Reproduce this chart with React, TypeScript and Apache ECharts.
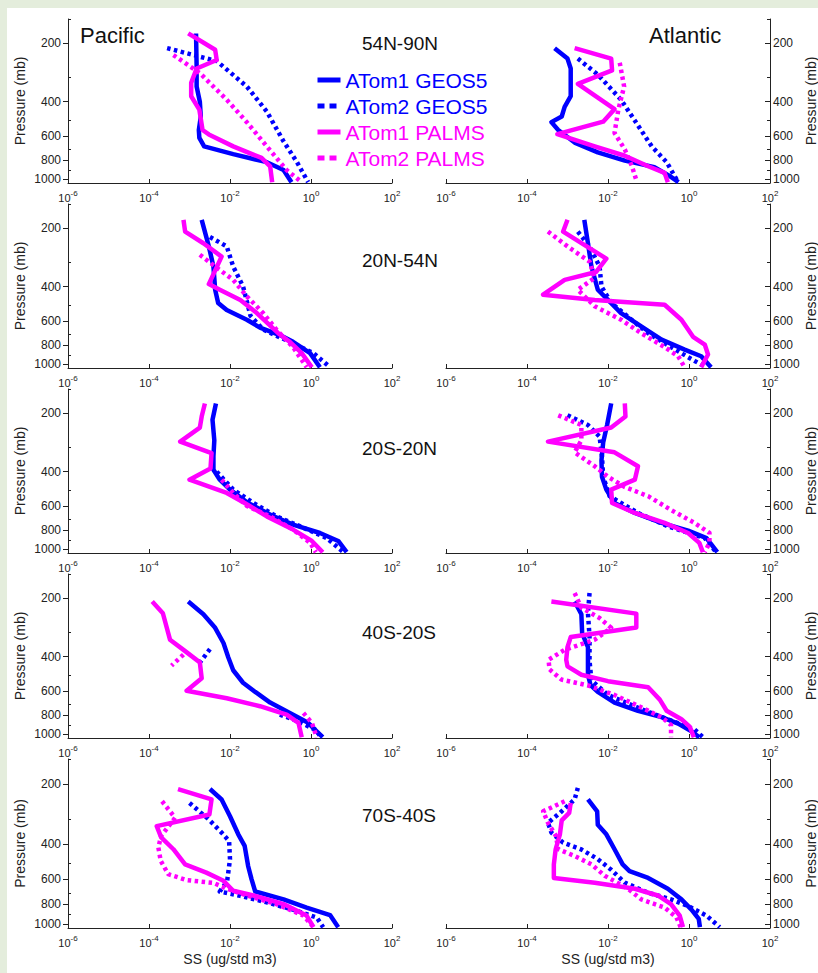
import React, { useEffect, useRef } from "react";
import * as echarts from "echarts";

const FONT = '"Liberation Sans", Arial, Helvetica, sans-serif';
const BLUE = "#0000ff";
const MAGENTA = "#ff00ff";
const INK = "#222222";

const OCEANS = ["Pacific", "Atlantic"];
const REGIONS = ["54N-90N", "20N-54N", "20S-20N", "40S-20S", "70S-40S"];
const SERIES_NAMES = ["ATom1 GEOS5", "ATom2 GEOS5", "ATom1 PALMS", "ATom2 PALMS"];
const X_TICKS = [1e-6, 1e-4, 1e-2, 1, 100];
const Y_MAJOR = [200, 400, 600, 800, 1000];
const Y_MINOR = [150, 300, 500, 700, 900];

type Pt = [number, number] | null; // [SS ug/std m3, pressure mb]

// ---------- 54N-90N ----------
const pac5490_geos1: Pt[] = [[1.45e-3,178],[1.5e-3,264],[1.5e-3,334],[1.8e-3,400],[1.9e-3,477],[1.7e-3,560],[1.75e-3,615],[2.3e-3,680],[1.2e-2,745],[8.1e-2,820],[0.21,900],[0.33,1040]];
const pac5490_geos2: Pt[] = [[2.8e-4,212],[4.7e-3,247],[2.6e-2,334],[8.1e-2,450],[0.21,640],[0.45,820],[0.85,1040]];
const pac5490_palms1: Pt[] = [[9.3e-4,178],[4.3e-3,216],[4.7e-3,244],[1.5e-3,270],[1.1e-3,320],[1.1e-3,375],[1.75e-3,440],[2.1e-3,560],[3.0e-3,590],[1.2e-2,680],[6.0e-2,780],[9.8e-2,861],[0.11,1040]];
const pac5490_palms2: Pt[] = [[4.0e-4,230],[1.8e-3,285],[8.3e-3,391],[2.6e-2,510],[8.1e-2,680],[0.25,900],[0.59,1040]];

const atl5490_geos1: Pt[] = [[4.8e-4,212],[1.0e-3,240],[1.2e-3,270],[1.2e-3,375],[8.5e-4,425],[7.2e-4,477],[4.0e-4,510],[5.9e-4,560],[1.5e-3,650],[5.6e-3,730],[2.6e-2,805],[0.14,870],[0.33,965],[0.55,1040]];
const atl5490_geos2: Pt[] = [[1.8e-3,240],[5.6e-3,290],[2.1e-2,391],[5.5e-2,530],[0.12,680],[0.28,820],[0.54,1040]];
const atl5490_palms1: Pt[] = [[1.5e-3,212],[1.2e-2,240],[1.26e-2,276],[1.8e-3,324],[1.45e-2,437],[7.6e-3,507],[5.6e-4,588],[4.7e-3,680],[2.6e-2,760],[9.8e-2,861],[0.25,931],[0.30,1040]];
const atl5490_palms2: Pt[] = [[1.95e-2,252],[2.5e-2,334],[1.8e-2,440],[1.45e-2,580],[2.6e-2,705],[3.9e-2,861],[5.2e-2,1040]];

// ---------- 20N-54N ----------
const pac2054_geos1: Pt[] = [[2.0e-3,181],[3.0e-3,248],[3.9e-3,315],[4.3e-3,415],[5.1e-3,485],[8.3e-3,528],[2.6e-2,592],[5.5e-2,650],[0.17,710],[0.36,770],[0.95,880],[1.66,1040]];
const pac2054_geos2: Pt[] = [[3.2e-3,222],[8.3e-3,248],[1.2e-2,315],[2.1e-2,399],[2.8e-2,505],[3.2e-2,565],[6.6e-2,666],[0.30,770],[1.15,880],[2.95,1040]];
const pac2054_palms1: Pt[] = [[7.1e-4,181],[7.8e-4,208],[2.2e-3,239],[6.2e-3,280],[3.0e-3,388],[5.6e-3,415],[1.8e-2,468],[4.6e-2,547],[0.155,695],[0.30,770],[0.59,880],[1.05,1040]];
const pac2054_palms2: Pt[] = [[1.8e-3,274],[4.3e-3,315],[1.2e-2,369],[2.6e-2,449],[6.6e-2,547],[0.14,666],[0.36,820],[0.78,1040]];

const atl2054_geos1: Pt[] = [[2.6e-3,181],[3.2e-3,239],[3.9e-3,315],[5.6e-3,415],[1.0e-2,468],[2.1e-2,547],[6.6e-2,640],[0.21,750],[0.78,844],[2.0,913],[3.5,1040]];
const atl2054_geos2: Pt[] = [[1.8e-3,208],[3.5e-3,248],[6.2e-3,315],[6.9e-3,399],[1.2e-2,485],[3.8e-2,592],[9.8e-2,695],[0.36,820],[1.38,966],[2.7,1040]];
const atl2054_palms1: Pt[] = [[1.0e-3,181],[7.8e-4,208],[9.1e-3,287],[5.1e-3,336],[8.5e-4,369],[2.5e-4,440],[4.7e-3,468],[0.25,496],[0.65,592],[1.26,725],[2.45,795],[2.95,895],[2.0,1040]];
const atl2054_palms2: Pt[] = [[3.3e-4,208],[1.0e-3,248],[3.5e-3,297],[4.7e-3,360],[1.8e-3,415],[4.7e-3,505],[2.1e-2,592],[6.6e-2,695],[0.25,820],[0.54,913],[0.78,1040]];

// ---------- 20S-20N ----------
const pac2020_geos1: Pt[] = [[4.5e-3,178],[3.7e-3,216],[4.1e-3,276],[3.9e-3,334],[3.9e-3,391],[5.6e-3,440],[1.0e-2,495],[2.8e-2,580],[0.12,680],[0.36,750],[1.66,828],[4.7,910],[7.6,1040]];
const pac2020_geos2: Pt[] = [[4.7e-3,400],[1.2e-2,495],[3.8e-2,580],[0.14,680],[0.54,765],[2.45,880],[6.3,1040]];
const pac2020_palms1: Pt[] = [[2.4e-3,178],[2.0e-3,208],[1.8e-3,237],[5.9e-4,280],[3.5e-3,321],[3.3e-3,385],[1.0e-3,440],[8.3e-3,515],[2.3e-2,580],[8.1e-2,680],[0.36,795],[1.05,910],[1.95,1040]];
const pac2020_palms2: Pt[] = [[6.2e-3,440],[1.2e-2,515],[2.6e-2,600],[9.8e-2,680],[0.36,795],[0.95,931],[1.32,1040]];

const atl2020_geos1: Pt[] = [[1.2e-2,178],[9.5e-3,230],[7.6e-3,283],[6.9e-3,350],[7.1e-3,425],[9.1e-3,495],[1.45e-2,580],[4.6e-2,653],[0.21,735],[0.95,805],[2.7,880],[5.0,1040]];
const atl2020_geos2: Pt[] = [[1.0e-3,205],[3.2e-3,230],[6.2e-3,264],[7.1e-3,334],[7.6e-3,425],[1.1e-2,535],[5.5e-2,653],[0.30,765],[2.45,880],[4.7,1040]];
const atl2020_palms1: Pt[] = [[2.6e-2,178],[2.7e-2,208],[1.2e-2,237],[3.3e-4,280],[1.45e-2,318],[5.5e-2,375],[4.6e-2,440],[1.2e-2,495],[1.26e-2,580],[4.6e-2,653],[0.25,735],[0.95,828],[1.8,931],[2.2,1040]];
const atl2020_palms2: Pt[] = [[5.9e-4,205],[2.2e-3,230],[2.2e-3,276],[1.5e-3,318],[4.7e-3,375],[1.0e-2,425],[2.6e-2,480],[9.8e-2,535],[0.36,630],[1.38,735],[3.2,828],[3.2,931],[2.45,1040]];

// ---------- 40S-20S ----------
const pac4020_geos1: Pt[] = [[9.3e-4,208],[2.2e-3,242],[4.3e-3,284],[6.9e-3,340],[9.1e-3,404],[1.2e-2,470],[2.1e-2,545],[4.2e-2,608],[9.8e-2,690],[0.30,780],[0.85,877],[1.38,970],[1.95,1040]];
const pac4020_geos2: Pt[] = [[3.2e-3,366],[1.75e-3,432],null,[0.17,795],[0.45,857],[1.26,950],[1.8,1040]];
const pac4020_palms1: Pt[] = [[1.2e-4,208],[2.2e-4,239],[3.3e-4,327],[7.1e-4,369],[1.8e-3,428],[2.0e-3,517],[8.5e-4,600],[8.3e-3,655],[5.5e-2,720],[0.25,795],[0.49,877],[0.59,1040]];
const pac4020_palms2: Pt[] = [[7.1e-4,390],[3.6e-4,445],null,[0.65,780],[1.05,877],[1.38,1040]];

const atl4020_geos1: Pt[] = [[1.5e-3,208],[2.2e-3,242],[2.3e-3,303],[3.2e-3,357],[3.2e-3,495],[3.7e-3,560],[5.6e-3,608],[1.45e-2,690],[5.5e-2,760],[0.21,820],[0.54,885],[1.15,970],[1.8,1040]];
const atl4020_geos2: Pt[] = [[3.5e-3,188],[3.2e-3,239],[3.5e-3,316],[3.5e-3,420],[3.9e-3,530],[1.0e-2,630],[6.6e-2,745],[0.30,840],[1.38,950],[2.2,1040]];
const atl4020_palms1: Pt[] = [[4.0e-4,208],[5.0e-2,240],[5.0e-2,283],[1.2e-3,317],[1.0e-3,357],[9.3e-4,415],[1.0e-3,449],[2.2e-3,496],[1.0e-2,535],[9.8e-2,575],[0.19,666],[0.28,760],[0.65,840],[1.05,920],[1.32,1040]];
const atl4020_palms2: Pt[] = [[1.5e-3,188],[2.2e-3,224],[6.2e-3,253],[1.2e-2,284],[4.7e-3,327],[8.5e-4,369],[3.4e-4,415],[3.6e-4,465],[7.1e-4,525],[3.2e-3,563],[1.45e-2,630],[6.6e-2,730],[0.21,820],[0.36,900],[0.36,1040]];

// ---------- 70S-40S ----------
const pac7040_geos1: Pt[] = [[3.2e-3,212],[6.2e-3,239],[1.0e-2,290],[1.6e-2,357],[2.3e-2,408],[2.8e-2,514],[3.4e-2,598],[4.2e-2,690],[0.21,755],[0.78,830],[2.95,905],[4.7,1040]];
const pac7040_geos2: Pt[] = [[1.0e-3,249],[3.0e-3,301],[6.2e-3,350],[9.5e-3,386],[1.0e-2,476],[8.5e-3,612],[5.6e-3,690],[1.8e-2,725],[8.1e-2,782],[0.36,850],[1.38,930],[2.0,1040]];
const pac7040_palms1: Pt[] = [[5.2e-4,212],[3.5e-3,239],[3.1e-3,284],[1.55e-4,325],[2.0e-4,370],[4.0e-4,424],[7.8e-4,505],[2.6e-3,555],[6.9e-3,610],[1.2e-2,684],[3.8e-2,722],[0.21,797],[0.78,910],[1.15,1040]];
const pac7040_palms2: Pt[] = [[2.1e-4,244],[4.4e-4,295],[2.0e-4,364],[1.7e-4,415],[1.95e-4,485],[3.0e-4,565],[8.5e-4,605],[3.9e-3,625],[8.3e-3,668],[2.6e-2,722],[0.14,797],[0.65,910],[1.15,1040]];

const atl7040_geos1: Pt[] = [[3.2e-3,239],[5.4e-3,274],[5.6e-3,320],[9.1e-3,357],[1.45e-2,424],[2.3e-2,505],[3.4e-2,546],[9.8e-2,590],[0.30,668],[0.65,755],[1.15,850],[1.74,946],[1.86,1040]];
const atl7040_geos2: Pt[] = [[1.8e-3,209],[1.5e-3,239],[6.5e-4,279],[3.3e-4,313],[4.0e-4,350],[7.8e-4,393],[2.2e-3,425],[5.6e-3,475],[1.2e-2,537],[2.6e-2,623],[9.8e-2,700],[0.36,755],[0.95,815],[2.7,910],[5.75,1040]];
const atl7040_palms1: Pt[] = [[1.2e-3,249],[1.1e-3,279],[7.2e-4,304],[6.5e-4,357],[5.1e-4,424],[4.6e-4,505],[4.6e-4,590],[4.7e-3,623],[4.6e-2,668],[0.17,722],[0.36,797],[0.59,910],[0.71,1040]];
const atl7040_palms2: Pt[] = [[8.5e-4,244],[2.5e-4,274],[3.3e-4,313],[5.2e-4,364],[5.9e-4,424],[1.5e-3,458],[3.9e-3,505],[8.3e-3,575],[3.1e-2,668],[6.6e-2,755],[0.25,830],[0.49,930],[0.62,1040]];

// panels in reading order: row by row, Pacific then Atlantic
const PANELS: Pt[][][] = [
  [pac5490_geos1, pac5490_geos2, pac5490_palms1, pac5490_palms2],
  [atl5490_geos1, atl5490_geos2, atl5490_palms1, atl5490_palms2],
  [pac2054_geos1, pac2054_geos2, pac2054_palms1, pac2054_palms2],
  [atl2054_geos1, atl2054_geos2, atl2054_palms1, atl2054_palms2],
  [pac2020_geos1, pac2020_geos2, pac2020_palms1, pac2020_palms2],
  [atl2020_geos1, atl2020_geos2, atl2020_palms1, atl2020_palms2],
  [pac4020_geos1, pac4020_geos2, pac4020_palms1, pac4020_palms2],
  [atl4020_geos1, atl4020_geos2, atl4020_palms1, atl4020_palms2],
  [pac7040_geos1, pac7040_geos2, pac7040_palms1, pac7040_palms2],
  [atl7040_geos1, atl7040_geos2, atl7040_palms1, atl7040_palms2],
];

export default function App() {
  const ref = useRef<HTMLDivElement>(null);

  useEffect(() => {
    if (!ref.current) return;
    const chart = echarts.init(ref.current, null, { renderer: "svg" });

    const ROW_TOP = [19, 204, 389, 574, 759];
    const ROW_H = [164, 164, 164, 164, 169];
    const COL_LEFT = [68, 446];
    const COL_W = 324;
    const TITLE_Y = [43, 260, 448, 632, 815];

    const grids: any[] = [];
    const xAxes: any[] = [];
    const yMajor: any[] = [];
    const yMinor: any[] = [];
    const series: any[] = [];

    const styles = [
      { color: BLUE, type: "solid" as any },
      { color: BLUE, type: [3.5, 3.5] as any },
      { color: MAGENTA, type: "solid" as any },
      { color: MAGENTA, type: [3.5, 3.5] as any },
    ];

    PANELS.forEach((panel, i) => {
      const row = Math.floor(i / 2);
      const col = i % 2;
      grids.push({
        left: COL_LEFT[col],
        top: ROW_TOP[row],
        width: COL_W,
        height: ROW_H[row],
        containLabel: false,
        outerBoundsMode: "none",
      });
      xAxes.push({
        type: "log",
        logBase: 10,
        gridIndex: i,
        min: 1e-6,
        max: 100,
        axisLine: { show: true, onZero: false, lineStyle: { color: INK, width: 1 } },
        axisTick: { show: true, inside: true, length: 4, customValues: X_TICKS, lineStyle: { color: INK } },
        axisLabel: {
          show: true,
          customValues: X_TICKS,
          margin: 6,
          formatter: (v: number) => `{b|10}{s|${Math.round(Math.log10(v))}}`,
          rich: {
            b: { fontSize: 11, color: INK, lineHeight: 17, fontFamily: FONT },
            s: { fontSize: 8, color: INK, lineHeight: 8, verticalAlign: "top", fontFamily: FONT },
          },
        },
        splitLine: { show: false },
        minorTick: { show: false },
        name: row === 4 ? "SS (ug/std m3)" : "",
        nameLocation: "middle",
        nameGap: 24,
        nameTextStyle: { fontSize: 14, color: INK, fontFamily: FONT },
      });
      yMajor.push({
        type: "log",
        logBase: 10,
        gridIndex: i,
        min: 150,
        max: 1050,
        inverse: true,
        position: col === 0 ? "left" : "right",
        axisLine: { show: true, onZero: false, lineStyle: { color: INK, width: 1 } },
        axisTick: { show: true, inside: col === 1, length: 5, customValues: Y_MAJOR, lineStyle: { color: INK } },
        axisLabel: {
          show: true,
          customValues: Y_MAJOR,
          fontSize: 12,
          color: INK,
          fontFamily: FONT,
          margin: col === 0 ? 7 : 3,
          formatter: (v: number) => String(Math.round(v)),
        },
        splitLine: { show: false },
        minorTick: { show: false },
        name: "Pressure (mb)",
        nameLocation: "middle",
        nameRotate: 90,
        nameGap: col === 0 ? 41 : 34,
        nameTextStyle: { fontSize: 14, color: INK, fontFamily: FONT },
      });
      yMinor.push({
        type: "log",
        logBase: 10,
        gridIndex: i,
        min: 150,
        max: 1050,
        inverse: true,
        position: col === 0 ? "left" : "right",
        axisLine: { show: false },
        axisTick: { show: true, inside: true, length: 3, customValues: Y_MINOR, lineStyle: { color: INK } },
        axisLabel: { show: false },
        splitLine: { show: false },
      });
      panel.forEach((data, k) => {
        series.push({
          type: "line",
          name: SERIES_NAMES[k],
          xAxisIndex: i,
          yAxisIndex: i,
          data: data.map((p) => (p === null ? "-" : p)),
          symbol: "none",
          showSymbol: false,
          connectNulls: false,
          silent: true,
          lineStyle: { color: styles[k].color, width: 4.5, type: styles[k].type, cap: "butt", join: "round" },
          itemStyle: { color: styles[k].color },
          z: 2 + k,
        });
      });
    });

    const graphic: any[] = [
      {
        type: "text",
        x: 80,
        y: 35,
        style: { text: OCEANS[0], fontSize: 22, fontFamily: FONT, fill: "#111", align: "left", verticalAlign: "middle" },
      },
      {
        type: "text",
        x: 649,
        y: 35,
        style: { text: OCEANS[1], fontSize: 22, fontFamily: FONT, fill: "#111", align: "left", verticalAlign: "middle" },
      },
      ...REGIONS.map((r, idx) => ({
        type: "text",
        x: 362,
        y: TITLE_Y[idx],
        style: { text: r, fontSize: 19, fontFamily: FONT, fill: "#111", align: "left", verticalAlign: "middle" },
      })),
    ];

    chart.setOption({
      animation: false,
      textStyle: { fontFamily: FONT },
      grid: grids,
      xAxis: xAxes,
      yAxis: [...yMajor, ...yMinor],
      series,
      legend: {
        orient: "vertical",
        left: 310,
        top: 64,
        itemWidth: 23,
        itemHeight: 12,
        itemGap: 4,
        selectedMode: false,
        itemStyle: { opacity: 0 },
        textStyle: { fontSize: 21, fontFamily: FONT, lineHeight: 22 },
        data: SERIES_NAMES.map((n, k) => ({
          name: n,
          textStyle: { color: k < 2 ? BLUE : MAGENTA },
          lineStyle: { width: 5, type: k % 2 === 0 ? "solid" : [7, 5] },
          itemStyle: { opacity: 0 },
        })),
      },
      graphic,
    });

    return () => chart.dispose();
  }, []);

  return (
    <div style={{ position: "fixed", left: 0, top: 0, width: 818, height: 973, background: "#e4eddc", overflow: "hidden" }}>
      <div style={{ position: "absolute", left: 7, top: 8, right: 0, bottom: 0, background: "#ffffff" }} />
      <div ref={ref} style={{ position: "absolute", left: 0, top: 0, width: 818, height: 973 }} />
    </div>
  );
}
